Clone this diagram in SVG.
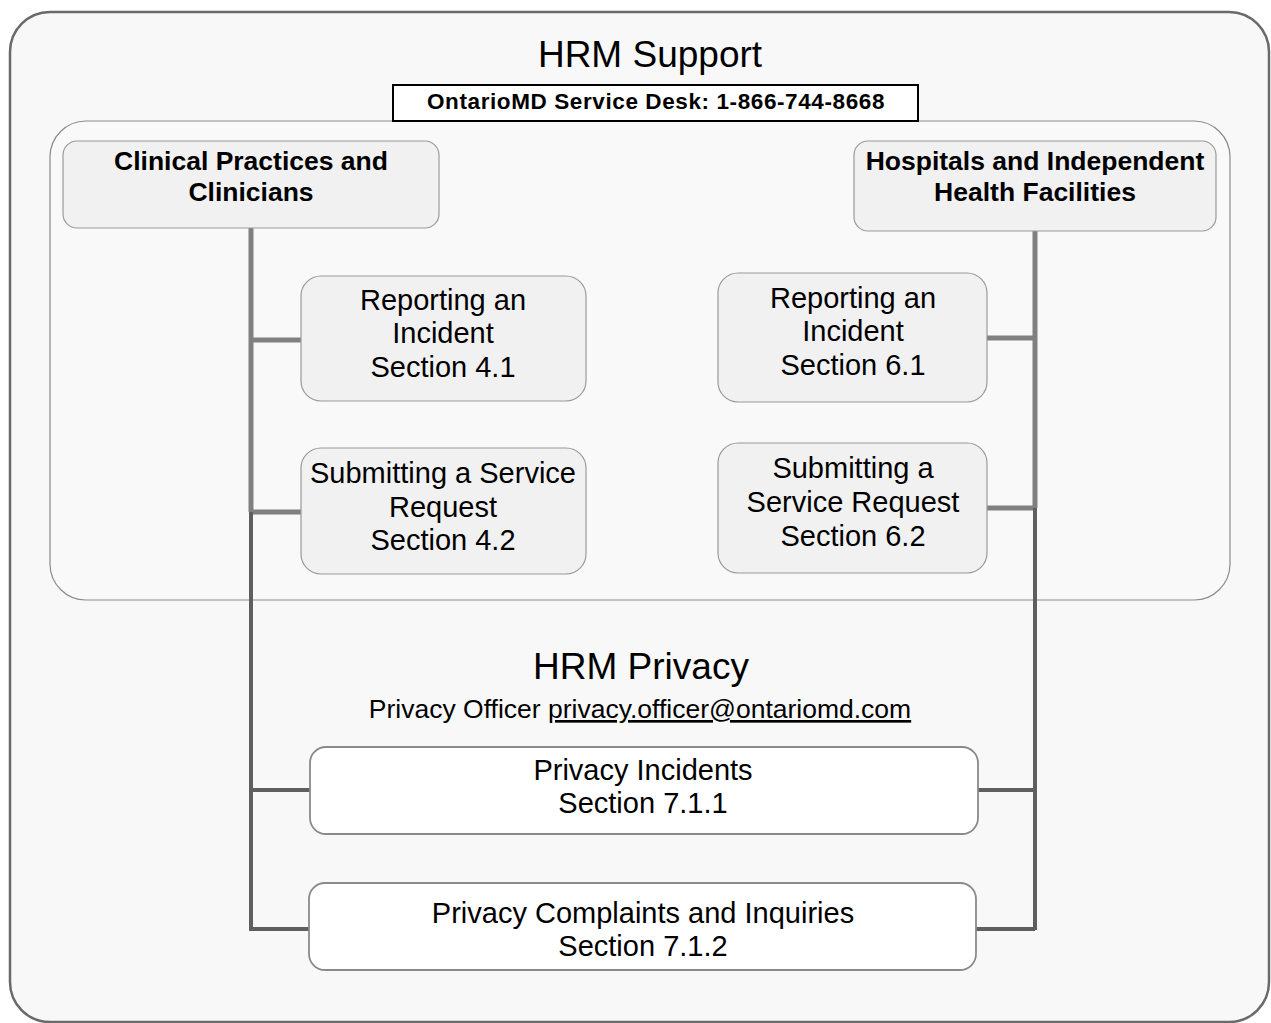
<svg xmlns="http://www.w3.org/2000/svg" width="1271" height="1023" viewBox="0 0 1271 1023">
<style>
.t{font-family:"Liberation Sans",Arial,sans-serif;fill:#000;text-anchor:middle}
.big{font-size:37px}
.b{font-size:22.5px;font-weight:bold;letter-spacing:0.6px}
.h{font-size:26.5px;font-weight:bold}
.r{font-size:29px}
.box{fill:#f1f1f1;stroke:#9a9a9a;stroke-width:1.2}
.wbox{fill:#fff;stroke:#8a8a8a;stroke-width:1.8}
.c1{stroke:#808080;stroke-width:5;fill:none}
.c2{stroke:#5f5f5f;stroke-width:4;fill:none}
</style>
<rect x="10" y="12" width="1259" height="1010" rx="40" fill="#f8f8f8" stroke="#6a6a6a" stroke-width="2.5"/>
<rect x="50" y="121" width="1180" height="479" rx="36" fill="#f9f9f9" stroke="#8c8c8c" stroke-width="1.2"/>
<text class="t big" x="650" y="67">HRM Support</text>
<g id="servicedesk">
<rect x="393" y="85" width="525" height="36" fill="#fff" stroke="#000" stroke-width="2"/>
<text class="t b" x="656" y="109">OntarioMD Service Desk: 1-866-744-8668</text>
</g>
<g id="connectors">
<path class="c1" d="M251 228V512M251 340H301M251 512H301"/>
<path class="c2" d="M251 512V931M251 790H310M251 929H309"/>
<path class="c1" d="M1035 231V508M1035 338H987M1035 508H987"/>
<path class="c2" d="M1035 508V930M1035 790H978M1035 929H976"/>
</g>
<g id="clinical">
<rect class="box" x="63" y="141" width="376" height="87" rx="14"/>
<text class="t h" x="251" y="170">Clinical Practices and</text>
<text class="t h" x="251" y="201">Clinicians</text>
</g>
<g id="hospitals">
<rect class="box" x="854" y="141" width="362" height="90" rx="14"/>
<text class="t h" x="1035" y="170">Hospitals and Independent</text>
<text class="t h" x="1035" y="201">Health Facilities</text>
</g>
<g id="report41">
<rect class="box" x="301" y="276" width="285" height="125" rx="20"/>
<text class="t r" x="443" y="310">Reporting an</text>
<text class="t r" x="443" y="343">Incident</text>
<text class="t r" x="443" y="377">Section 4.1</text>
</g>
<g id="submit42">
<rect class="box" x="301" y="448" width="285" height="126" rx="20"/>
<text class="t r" x="443" y="483">Submitting a Service</text>
<text class="t r" x="443" y="517">Request</text>
<text class="t r" x="443" y="550">Section 4.2</text>
</g>
<g id="report61">
<rect class="box" x="718" y="273" width="269" height="129" rx="20"/>
<text class="t r" x="853" y="308">Reporting an</text>
<text class="t r" x="853" y="341">Incident</text>
<text class="t r" x="853" y="375">Section 6.1</text>
</g>
<g id="submit62">
<rect class="box" x="718" y="443" width="269" height="130" rx="20"/>
<text class="t r" x="853" y="478">Submitting a</text>
<text class="t r" x="853" y="512">Service Request</text>
<text class="t r" x="853" y="546">Section 6.2</text>
</g>
<text class="t big" x="641" y="679">HRM Privacy</text>
<text class="t" x="640" y="718" style="font-size:26.5px">Privacy Officer <tspan text-decoration="underline">privacy.officer@ontariomd.com</tspan></text>
<g id="privacyincidents">
<rect class="wbox" x="310" y="747" width="668" height="87" rx="16"/>
<text class="t r" x="643" y="780">Privacy Incidents</text>
<text class="t r" x="643" y="813">Section 7.1.1</text>
</g>
<g id="privacycomplaints">
<rect class="wbox" x="309" y="883" width="667" height="87" rx="16"/>
<text class="t r" x="643" y="923">Privacy Complaints and Inquiries</text>
<text class="t r" x="643" y="956">Section 7.1.2</text>
</g>
</svg>
